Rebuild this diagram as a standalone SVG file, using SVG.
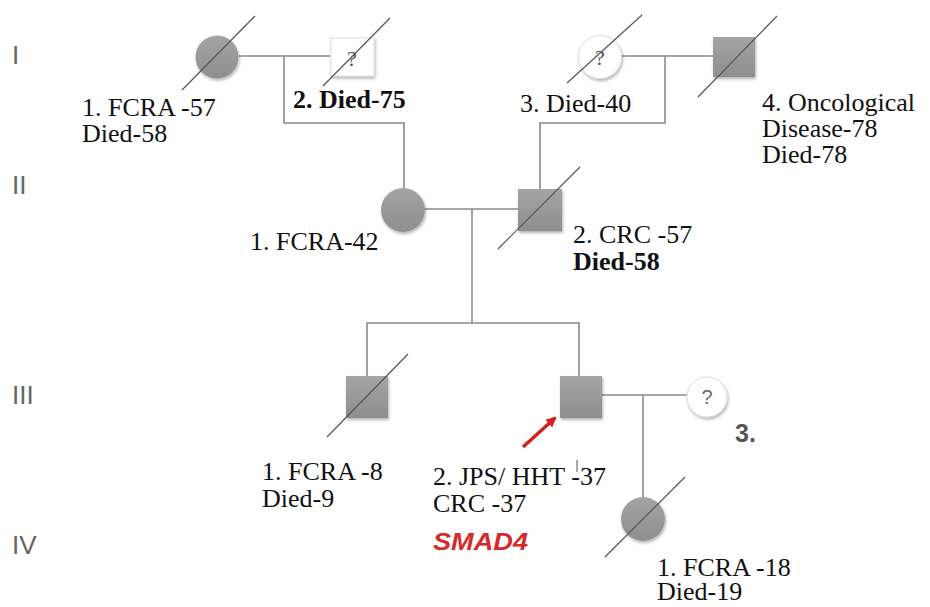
<svg xmlns="http://www.w3.org/2000/svg" width="930" height="607" viewBox="0 0 930 607">
<defs>
<linearGradient id="gf" x1="0" y1="0" x2="0" y2="1">
<stop offset="0" stop-color="#a4a4a4"/>
<stop offset="1" stop-color="#8e8e8e"/>
</linearGradient>
<filter id="sh" x="-30%" y="-30%" width="160%" height="160%">
<feDropShadow dx="1" dy="2" stdDeviation="1.5" flood-color="#000" flood-opacity="0.3"/>
</filter>
<marker id="ah" viewBox="0 0 10 10" refX="8" refY="5" markerWidth="3" markerHeight="3" orient="auto">
<path d="M0,0 L10,5 L0,10 z" fill="#d62020"/>
</marker>
</defs>
<style>
.aff{fill:url(#gf);filter:url(#sh)}
.unk{fill:#fff;stroke:#ddd;stroke-width:1;filter:url(#sh)}
.con{stroke:#8a8a8a;stroke-width:1.6;fill:none}
.dec{stroke:#555;stroke-width:1.2}
.lb{font-family:"Liberation Serif","Times New Roman",serif;font-size:26px;fill:#111}
.b{font-weight:bold}
.gen{font-family:"Liberation Sans",Arial,sans-serif;font-size:26px;fill:#666}
.q{font-family:"Liberation Serif",serif;font-size:22px;fill:#555;text-anchor:middle}
.qs{font-family:"Liberation Sans",sans-serif;font-size:20px;fill:#666;text-anchor:middle}
</style>
<rect width="930" height="607" fill="#fff"/>

<g id="generations">
<text class="gen" x="12" y="64">I</text>
<text class="gen" x="12" y="194">II</text>
<text class="gen" x="12" y="404">III</text>
<text class="gen" x="12" y="554">IV</text>
</g>

<g id="connectors">
<path class="con" d="M239,56 H330"/>
<path class="con" d="M284,56 V123 H404 V188"/>
<path class="con" d="M621,56 H713"/>
<path class="con" d="M665,56 V123 H540 V189"/>
<path class="con" d="M425,209 H518"/>
<path class="con" d="M472,209 V323"/>
<path class="con" d="M367,376 V323 H579 V376"/>
<path class="con" d="M602,395 H687"/>
<path class="con" d="M643,395 V497"/>
</g>

<g id="I1">
<circle class="aff" cx="217" cy="57" r="21.5"/>
<line class="dec" x1="182" y1="90" x2="255" y2="16"/>
<text class="lb" x="82" y="116">1. FCRA -57<tspan x="82" dy="26">Died-58</tspan></text>
</g>

<g id="I2">
<rect class="unk" x="331" y="38" width="43" height="38"/>
<text class="q" x="352" y="66">?</text>
<line class="dec" x1="323" y1="86" x2="390" y2="18"/>
<text class="lb b" x="293" y="108">2. Died-75</text>
</g>

<g id="I3">
<circle class="unk" cx="600" cy="57" r="21.5"/>
<text class="q" x="600" y="65">?</text>
<line class="dec" x1="567" y1="83" x2="642" y2="15"/>
<text class="lb" x="520" y="112">3. Died-40</text>
</g>

<g id="I4">
<rect class="aff" x="713" y="37" width="42" height="40"/>
<line class="dec" x1="698" y1="97" x2="777" y2="16"/>
<text class="lb" x="762" y="111">4. Oncological<tspan x="762" dy="26">Disease-78</tspan><tspan x="762" dy="26">Died-78</tspan></text>
</g>

<g id="II1">
<circle class="aff" cx="403" cy="210" r="22"/>
<text class="lb" x="250" y="250">1. FCRA-42</text>
</g>

<g id="II2">
<rect class="aff" x="518" y="189" width="44" height="42"/>
<line class="dec" x1="498" y1="249" x2="580" y2="167"/>
<text class="lb" x="573" y="243">2. CRC -57<tspan x="573" dy="27" font-weight="bold">Died-58</tspan></text>
</g>

<g id="III1">
<rect class="aff" x="346" y="376" width="42" height="42"/>
<line class="dec" x1="327" y1="437" x2="408" y2="354"/>
<text class="lb" x="262" y="480">1. FCRA -8<tspan x="262" dy="27">Died-9</tspan></text>
</g>

<g id="III2">
<rect class="aff" x="560" y="376" width="42" height="42"/>
<line x1="523" y1="447" x2="555" y2="418" stroke="#d62020" stroke-width="3.5" marker-end="url(#ah)"/>
<text class="lb" x="433" y="485">2. JPS/ HHT -37<tspan x="433" dy="27">CRC -37</tspan></text>
<line x1="577" y1="460" x2="577" y2="472" stroke="#555" stroke-width="1"/>
<text x="433" y="550" font-family="'Liberation Sans',Arial,sans-serif" font-size="23" font-weight="bold" font-style="italic" fill="#d42a2a" textLength="95" lengthAdjust="spacingAndGlyphs">SMAD4</text>
</g>

<g id="III3">
<circle class="unk" cx="707" cy="397" r="20"/>
<text class="qs" x="707" y="404">?</text>
<text x="735" y="442" font-family="'Liberation Sans',Arial,sans-serif" font-size="25" font-weight="bold" fill="#555">3.</text>
</g>

<g id="IV1">
<circle class="aff" cx="643" cy="519" r="22"/>
<line class="dec" x1="605" y1="557" x2="685" y2="477"/>
<text class="lb" x="657" y="576">1. FCRA -18<tspan x="657" dy="24">Died-19</tspan></text>
</g>
</svg>
